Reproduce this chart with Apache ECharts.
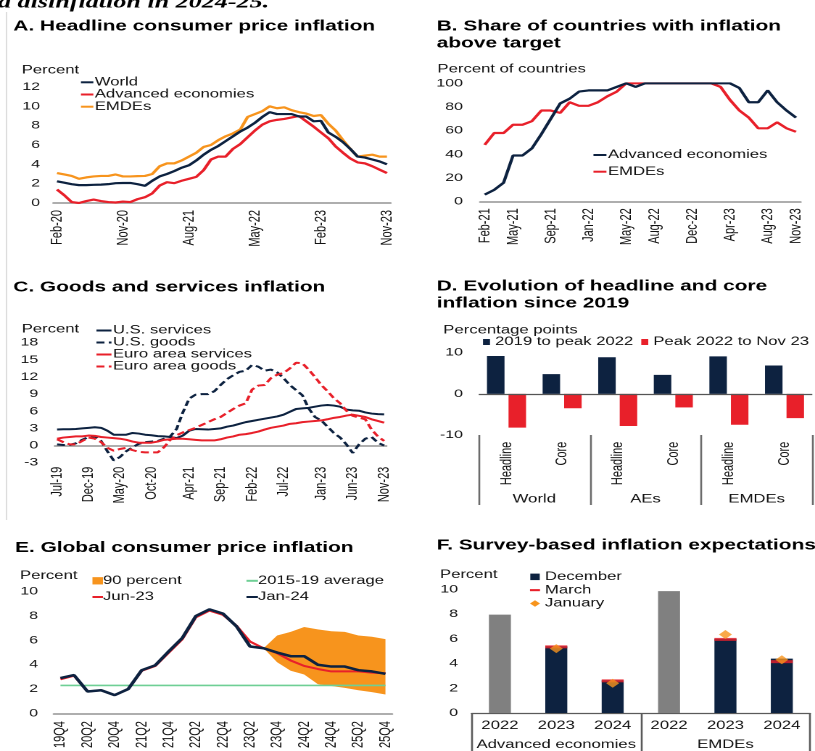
<!DOCTYPE html>
<html><head><meta charset="utf-8">
<script src="https://cdn.jsdelivr.net/npm/echarts@6/dist/echarts.min.js"></script>
<style>
html,body{margin:0;padding:0;background:#fff;overflow:hidden;width:815px;height:751px}
#c{width:562px;height:751px;transform:scaleX(1.450178);transform-origin:0 0;}
</style></head><body><div id="c"></div><script>
// ---------- DATA ----------
const MON = ['Jan','Feb','Mar','Apr','May','Jun','Jul','Aug','Sep','Oct','Nov','Dec'];
function months(y, m, n){ const out=[]; for(let i=0;i<n;i++){ const mm=(m+i)%12, yy=y+Math.floor((m+i)/12); out.push(MON[mm]+'-'+String(yy%100).padStart(2,'0')); } return out; }

// Panel A: headline CPI inflation, Feb-20 .. Nov-23
const aCats = months(2020, 1, 46);
const aWorld = [2.24,2.1,1.95,1.85,1.85,1.88,1.9,1.95,2.05,2.07,2.07,1.95,1.78,2.3,2.75,3.0,3.3,3.65,3.9,4.4,5.0,5.5,5.9,6.4,6.9,7.4,7.8,8.3,8.9,9.4,9.2,9.2,9.2,8.95,8.95,8.45,8.5,7.3,6.85,6.3,5.6,4.8,4.7,4.5,4.3,4.0];
const aAE = [1.4,0.8,0.1,0.0,0.2,0.35,0.2,0.1,0.05,0.15,0.1,0.4,0.6,1.0,1.8,2.15,2.05,2.3,2.5,2.7,3.4,4.5,4.8,4.8,5.6,6.1,6.8,7.5,8.1,8.45,8.6,8.7,8.85,9.0,8.45,7.9,7.3,6.7,5.85,5.2,4.6,4.2,4.1,3.8,3.45,3.1];
const aEM = [3.1,2.95,2.8,2.5,2.65,2.75,2.8,2.8,2.95,2.75,2.75,2.78,2.8,3.0,3.8,4.1,4.1,4.4,4.8,5.2,5.8,6.0,6.5,6.9,7.2,7.6,8.9,9.2,9.5,10.0,9.8,9.9,9.6,9.4,9.25,9.0,9.1,8.2,7.5,6.5,5.6,4.8,4.9,5.0,4.8,4.8];
const aTicks = [0,2,4,6,8,10,12];

// Panel B: share of countries above target, Feb-21 .. Nov-23
const bCats = months(2021, 1, 34);
const bLabelIdx = [0,3,7,11,15,18,22,26,30,33];
const bAE = [6,10,16,39,39,45,57,70,83,87,93,94,94,94,97,100,97,100,100,100,100,100,100,100,100,100,100,96,84,84,94,84,77,71];
const bEM = [48,58,58,65,65,68,77,77,75,84,81,81,84,89,93,100,100,100,100,100,100,100,100,100,100,97,86,77,71,62,62,67,62,59];

// Panel C: goods and services inflation, Jul-19 .. Nov-23
const cCats = months(2019, 6, 53);
const cLabelIdx = [0,5,10,15,21,26,31,36,42,47,52];
const cUSserv = [2.8,2.85,2.85,2.9,3.0,3.1,3.2,3.1,2.6,1.9,1.9,1.9,2.2,2.1,1.9,1.8,1.65,1.6,1.5,1.3,1.75,2.6,2.9,2.85,2.8,2.9,3.0,3.3,3.5,3.8,4.1,4.3,4.5,4.7,4.9,5.1,5.4,5.9,6.4,6.5,6.6,6.8,7.0,7.1,7.0,6.8,6.3,6.15,6.1,5.8,5.6,5.5,5.45];
const cUSgoods = [0.2,0.1,0.1,0.4,1.0,1.5,1.6,0.8,-1.0,-2.6,-2.0,-1.0,-0.3,0.3,0.6,0.7,0.8,1.2,1.6,2.9,5.8,8.2,8.9,9.0,9.0,9.5,10.6,11.6,12.3,12.9,13.1,14.1,13.8,13.1,13.3,12.8,11.8,10.6,9.7,8.8,6.5,5.0,4.4,3.3,2.2,1.4,0.2,-1.3,0.2,1.2,1.5,0.5,0.0];
const cEAserv = [1.2,1.4,1.5,1.6,1.6,1.75,1.7,1.5,1.4,1.3,1.2,1.0,0.7,0.5,0.5,0.5,0.7,1.0,1.1,1.2,1.2,1.1,1.0,0.9,0.9,0.9,1.1,1.4,1.6,1.9,2.0,2.2,2.45,2.8,3.1,3.3,3.5,3.8,3.9,4.1,4.2,4.3,4.4,4.6,4.85,5.0,5.25,5.4,5.2,5.0,4.6,4.3,4.0];
const cEAgoods = [1.1,0.6,0.2,0.2,0.8,1.4,1.2,0.6,-0.4,-0.9,-0.6,-0.4,-0.8,-1.1,-1.2,-1.2,-1.2,-0.3,1.0,1.8,2.3,2.7,3.1,3.6,4.1,4.6,5.0,5.7,6.4,7.0,7.4,9.8,10.5,10.6,11.8,12.4,12.7,13.5,14.5,14.4,13.3,12.0,10.6,9.5,8.3,7.4,6.1,5.2,4.9,4.6,2.8,1.6,0.8];

// Panel D: evolution of headline and core inflation
const dCats = ['Headline','Core','Headline','Core','Headline','Core'];
const dGroups = ['World','AEs','EMDEs'];
const dRise = [9.2, 4.8, 8.9, 4.6, 9.1, 6.9];
const dFall = [-8.2, -3.5, -7.8, -3.3, -7.5, -5.9];

// Panel E: global consumer price inflation
const eCats = ['19Q4','20Q1','20Q2','20Q3','20Q4','21Q1','21Q2','21Q3','21Q4','22Q1','22Q2','22Q3','22Q4','23Q1','23Q2','23Q3','23Q4','24Q1','24Q2','24Q3','24Q4','25Q1','25Q2','25Q3','25Q4'];
const eJan24 = [2.9,3.15,1.8,1.9,1.5,2.0,3.55,3.95,5.1,6.2,8.0,8.55,8.2,7.15,5.5,5.35,5.0,4.7,4.7,4.0,3.85,3.85,3.55,3.45,3.25];
const eJun23 = [2.8,3.1,1.8,1.9,1.5,2.0,3.5,3.9,5.0,6.1,7.9,8.45,8.1,7.2,5.9,5.35,4.95,4.35,3.9,3.65,3.45,3.45,3.45,3.35,3.3];
const eAvg1519 = 2.3;
const eBandLow  = [null,null,null,null,null,null,null,null,null,null,null,null,null,null,null,5.35,4.2,3.5,3.2,2.4,2.25,2.1,1.9,1.75,1.55];
const eBandHigh = [null,null,null,null,null,null,null,null,null,null,null,null,null,null,null,5.35,6.4,6.7,7.1,6.9,6.75,6.7,6.4,6.3,6.1];

// Panel F: survey-based inflation expectations
const fYears = ['2022','2023','2024','2022','2023','2024'];
const fGroups = ['Advanced economies','EMDEs'];
const fDec = [7.95, 5.4, 2.65, 9.85, 6.0, 4.4];
const fMarch = [null, 5.35, 2.6, null, 5.95, 4.15];
const fJan = [null, 5.2, 2.4, null, 6.35, 4.3];

// ---------- STYLE ----------
const S = 815/562;               // horizontal stretch of the reference
const X = v => v / S;            // reference px -> chart px (x only)
const FONT = '"Liberation Sans", Arial, sans-serif';
const TXT = '#111';
const navy = '#0d2240', red = '#e8202a', orange = '#f7941d', green = '#6fcf95', grayBar = '#808080', axisGray = '#939393';

const grids = [
  [53.3, 87, 337.3, 116],
  [480, 83.3, 320.7, 118.4],
  [53.9, 342.7, 333.4, 120],
  [478.7, 352.7, 333.6, 82.3],
  [53.7, 591.7, 338.5, 125.6],
  [471.7, 589.3, 338.3, 124.7]
].map(([l,t,w,h]) => ({left:X(l), top:t, width:X(w), height:h}));

function yAx(g, min, max, interval, m){
  return {type:'value', gridIndex:g, min, max, interval,
    axisLine:{show:false}, axisTick:{show:false}, splitLine:{show:false},
    axisLabel:{fontSize:11, color:TXT, margin:X(m), fontFamily:FONT}};
}
function xTime(g, data, interval, margin, showLine){
  return {type:'category', gridIndex:g, data, boundaryGap:true,
    axisLine:{show:showLine, onZero:false, lineStyle:{color:axisGray, width:1.5}},
    axisTick:{show:false},
    axisLabel:{rotate:90, interval, margin, fontSize:11, color:TXT, fontFamily:FONT}};
}
const lineS = (name, xi, yi, data, color, width, type) => ({
  name, type:'line', xAxisIndex:xi, yAxisIndex:yi, data, symbol:'none', showSymbol:false, color,
  lineStyle:{color, width, type: type || 'solid'}, emphasis:{disabled:true}
});
const legendBase = (o) => Object.assign({padding:0, orient:'vertical', selectedMode:false,
  itemStyle:{opacity:0},
  formatter: n => n.slice(2),
  textStyle:{fontSize:11.5, color:TXT, fontFamily:FONT, lineHeight:12, padding:[0,0,0,-4]}}, o);

const titleBase = (text, l, t) => ({text, left:X(l), top:t, padding:0,
  textStyle:{fontSize:14.4, fontWeight:'bold', color:'#000', fontFamily:FONT, lineHeight:17}});

const gtext = (text, l, yc, size) => ({type:'text', x:X(l), y:yc, silent:true,
  style:{text, font: (size||11.5)+'px '+FONT, fill:TXT, verticalAlign:'middle'}});

const option = {
  animation:false,
  textStyle:{fontFamily:FONT},
  title:[
    titleBase('A. Headline consumer price inflation', 13.3, 18),
    titleBase('B. Share of countries with inflation\nabove target', 436.7, 18),
    titleBase('C. Goods and services inflation', 13.3, 279),
    titleBase('D. Evolution of headline and core\ninflation since 2019', 436.7, 278),
    titleBase('E. Global consumer price inflation', 15, 539.5),
    titleBase('F. Survey-based inflation expectations', 436.7, 537)
  ],
  legend:[
    legendBase({left:X(79.5), top:76.2, itemWidth:X(12.4), itemHeight:10, itemGap:0,
      textStyle:{fontSize:11.5, color:TXT, fontFamily:FONT, lineHeight:12.2, padding:[0,0,0,-4]},
      data:['A|World','A|Advanced economies','A|EMDEs']}),
    legendBase({left:X(592), top:149, itemWidth:X(13), itemHeight:10, itemGap:4.7,
      data:['B|Advanced economies','B|EMDEs']}),
    legendBase({left:X(95), top:324.5, itemWidth:X(15), itemHeight:10, itemGap:0,
      textStyle:{fontSize:11.5, color:TXT, fontFamily:FONT, lineHeight:11.5, padding:[0,0,0,-4]},
      data:['C|U.S. services','C|U.S. goods','C|Euro area services','C|Euro area goods']}),
    legendBase({left:X(483), top:336, orient:'horizontal', itemWidth:X(7), itemHeight:6, itemGap:X(8), icon:'rect',
      itemStyle:{opacity:1},
      textStyle:{fontSize:11.5, color:TXT, fontFamily:FONT, lineHeight:12, padding:[0,0,0,-1.5]},
      data:['D|2019 to peak 2022','D|Peak 2022 to Nov 23']}),
    legendBase({left:X(91), top:574.8, itemWidth:X(10.5), itemHeight:7.3, itemGap:4.2,
      textStyle:{fontSize:11.5, color:TXT, fontFamily:FONT, lineHeight:12, padding:[0,0,0,-5]},
      data:[{name:'E|90 percent', icon:'rect', itemStyle:{color:orange, opacity:1}}, 'E|Jun-23']}),
    legendBase({left:X(245), top:574.8, itemWidth:X(11.5), itemHeight:7.3, itemGap:4.2,
      textStyle:{fontSize:11.5, color:TXT, fontFamily:FONT, lineHeight:12, padding:[0,0,0,-5]},
      data:['E|2015-19 average','E|Jan-24']}),
    legendBase({left:X(530), top:570.2, itemWidth:X(10), itemHeight:6.5, itemGap:0,
      itemStyle:{opacity:1},
      textStyle:{fontSize:11.5, color:TXT, fontFamily:FONT, lineHeight:13.3, padding:[0,0,0,-1.6]},
      data:[{name:'F|December', icon:'path://M0,0h10v10h-10z', itemStyle:{color:navy}},
            {name:'F|March', icon:'path://M0,0h10v3h-10z', itemStyle:{color:red}},
            {name:'F|January', icon:'diamond', itemStyle:{color:orange}}]})
  ],
  grid: grids,
  xAxis:[
    xTime(0, aCats, 8, 7, true),
    xTime(1, bCats, (i) => bLabelIdx.includes(i), 6.6, true),
    xTime(2, cCats, (i) => cLabelIdx.includes(i), 4, false),
    {type:'category', gridIndex:3, data:dCats, boundaryGap:true,
      axisLine:{show:false, onZero:false}, axisTick:{show:false},
      axisLabel:{rotate:90, interval:0, margin:6.7, fontSize:11, color:TXT, fontFamily:FONT}},
    {type:'category', gridIndex:3, data:dGroups, boundaryGap:true, position:'bottom',
      axisLine:{show:false, onZero:false},
      axisTick:{show:true, interval:0, length:70, lineStyle:{color:'#6b6b6b', width:1.3}},
      axisLabel:{interval:0, margin:58.5, fontSize:11.5, color:TXT, fontFamily:FONT}},
    xTime(4, eCats, 1, 7.7, true),
    {type:'category', gridIndex:5, data:fYears, boundaryGap:true,
      axisLine:{show:true, onZero:false, lineStyle:{color:'#5a5a5a', width:1.3}}, axisTick:{show:false},
      axisLabel:{interval:0, margin:7, fontSize:11.5, color:TXT, fontFamily:FONT}},
    {type:'category', gridIndex:5, data:fGroups, boundaryGap:true, position:'bottom',
      axisLine:{show:false, onZero:false},
      axisTick:{show:true, interval:0, length:40, lineStyle:{color:'#5a5a5a', width:1.3}},
      axisLabel:{interval:0, margin:26, fontSize:11.5, color:TXT, fontFamily:FONT}}
  ],
  yAxis:[
    yAx(0, aTicks[0], aTicks[aTicks.length-1], 2, 13.3),
    yAx(1, 0, 100, 20, 17),
    yAx(2, -3, 18, 3, 15.6),
    yAx(3, -10, 10, 10, 15.7),
    yAx(4, 0, 10, 2, 15.7),
    yAx(5, 0, 10, 2, 13.7)
  ],
  series:[
    // A
    lineS('A|EMDEs', 0, 0, aEM, orange, 2.2),
    lineS('A|Advanced economies', 0, 0, aAE, red, 2.2),
    lineS('A|World', 0, 0, aWorld, navy, 2.2),
    // B
    lineS('B|EMDEs', 1, 1, bEM, red, 2.2),
    lineS('B|Advanced economies', 1, 1, bAE, navy, 2.2),
    // C
    Object.assign(lineS('C|U.S. services', 2, 2, cUSserv, navy, 2), {
      markLine:{silent:true, symbol:['none','none'], label:{show:false},
        lineStyle:{color:axisGray, width:1.5, type:'solid'}, data:[{yAxis:0}], z:1}}),
    lineS('C|U.S. goods', 2, 2, cUSgoods, navy, 2, [5.5,3]),
    lineS('C|Euro area services', 2, 2, cEAserv, red, 2),
    lineS('C|Euro area goods', 2, 2, cEAgoods, red, 2, [5.5,3]),
    // D
    {name:'D|2019 to peak 2022', type:'bar', xAxisIndex:3, yAxisIndex:3, data:dRise,
      barWidth:X(17.5), barGap:'23%', color:navy, itemStyle:{color:navy},
      markLine:{silent:true, symbol:['none','none'], label:{show:false},
        lineStyle:{color:'#555', width:1.3, type:'solid'}, data:[{yAxis:0}]}},
    {name:'D|Peak 2022 to Nov 23', type:'bar', xAxisIndex:3, yAxisIndex:3, data:dFall,
      barWidth:X(17.5), barGap:'23%', color:red, itemStyle:{color:red}},
    // E
    {name:'E|bandLow', type:'line', xAxisIndex:5, yAxisIndex:4, stack:'band', data:eBandLow,
      symbol:'none', lineStyle:{opacity:0}, z:1},
    {name:'E|90 percent', type:'line', xAxisIndex:5, yAxisIndex:4, stack:'band',
      data:eBandHigh.map((v,i) => v==null ? null : +(v - eBandLow[i]).toFixed(2)),
      symbol:'none', color:orange, itemStyle:{color:orange}, lineStyle:{opacity:0},
      areaStyle:{color:orange, opacity:1}, z:1},
    lineS('E|2015-19 average', 5, 4, eCats.map(() => eAvg1519), green, 1.6),
    lineS('E|Jun-23', 5, 4, eJun23, red, 2),
    lineS('E|Jan-24', 5, 4, eJan24, navy, 2.5),
    // F
    {name:'F|December', type:'bar', xAxisIndex:6, yAxisIndex:5, barWidth:X(22), color:navy,
      data: fDec.map((v,i) => ({value:v, itemStyle:{color: fYears[i]==='2022' ? grayBar : navy}}))},
    {name:'F|March', type:'scatter', xAxisIndex:6, yAxisIndex:5, data:fMarch, symbol:'rect',
      symbolSize:[X(22), 3], color:red, itemStyle:{color:red}, z:3},
    {name:'F|January', type:'scatter', xAxisIndex:6, yAxisIndex:5, data:fJan, symbol:'diamond',
      symbolSize:[X(13), 9], color:orange, itemStyle:{color:orange}, z:4}
  ],
  graphic:[
    {type:'text', x:X(-2), y:3, silent:true,
      style:{text:'a disinflation in 2024-25.', font:'italic bold 18px "Liberation Serif", serif', fill:'#000', verticalAlign:'middle'}},
    {type:'line', silent:true, shape:{x1:X(6.5), y1:12, x2:X(6.5), y2:520}, style:{stroke:'#dcdcdc', lineWidth:1}},
    gtext('Percent', 21.7, 70.3),
    gtext('Percent of countries', 437.5, 69.2),
    gtext('Percent', 21.7, 329.5),
    gtext('Percentage points', 443.3, 330.5),
    gtext('Percent', 20, 575.8),
    gtext('Percent', 440, 575)
  ]
};

const chart = echarts.init(document.getElementById('c'), null, {renderer:'canvas', devicePixelRatio:2});
chart.setOption(option);
</script></body></html>
